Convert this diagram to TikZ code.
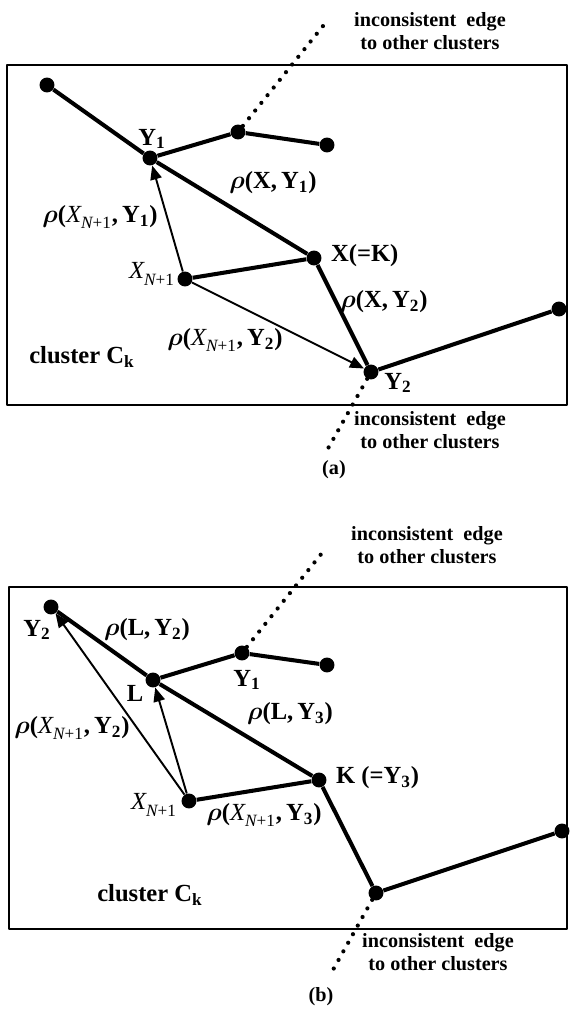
\documentclass[tikz,border=0pt]{standalone}
\usepackage{fontspec}
\setmainfont{Liberation Serif}
\usetikzlibrary{arrows.meta}
\newcommand\xnext{{\mdseries\itshape X\textsubscript{\raisebox{-0.3ex}{N\upshape+1}}}}
\begin{document}
\begin{tikzpicture}[x=0.02cm,y=-0.02cm,line join=round,
  dot/.style={circle,fill,inner sep=0pt,minimum size=8.5pt},
  tree/.style={line width=2.3pt},
  dist/.style={line width=1.1pt,-{Triangle[length=8pt,width=6.5pt]}},
  outedge/.style={line width=2.4pt,line cap=round,dash pattern=on 0pt off 5.6pt},
  lab/.style={font=\bfseries\boldmath\fontsize{14}{16}\selectfont,inner sep=1pt},
  note/.style={font=\bfseries\fontsize{11.5}{13}\selectfont,align=center,inner sep=1pt},
  frame/.style={line width=1.3pt}]
\useasboundingbox (0,0) rectangle (569,1009);
% ---- (a) ----
\draw[frame] (7,65) rectangle (567,405);
\node[dot] (a1) at (47,85) {};
\node[dot] (ay1) at (150,158) {};
\node[dot] (am) at (238,132) {};
\node[dot] (ar) at (327,145) {};
\node[dot] (ax) at (185,279) {};
\node[dot] (ak) at (314,258) {};
\node[dot] (ay2) at (371,372) {};
\node[dot] (af) at (559,309) {};
\coordinate (aout1) at (323,26);
\coordinate (aout2) at (326,452);
\draw[tree] (a1)--(ay1)--(am)--(ar) (ay1)--(ak)--(ay2)--(af) (ax)--(ak);
\draw[dist] (ax)--(ay1);
\draw[dist] (ax)--(ay2);
\draw[outedge] (am)--(aout1) (ay2)--(aout2);
\node[lab] (ly1) at (152,139) {Y\textsubscript{1}};
\node[lab] (lxy1) at (273,183) {$\rho$(X,\,Y\textsubscript{1})};
\node[lab] (lxny1) at (100,217) {$\rho$(\xnext,\,Y\textsubscript{1})};
\node[lab,anchor=east] (lx) at (177,274) {\xnext};
\node[lab,anchor=west] (lk) at (329,256) {X(=K)};
\node[lab] (lxy2) at (384,302) {$\rho$(X,\,Y\textsubscript{2})};
\node[lab] (lxny2) at (225,340) {$\rho$(\xnext,\,Y\textsubscript{2})};
\node[lab] (lca) at (82,357) {cluster C\textsubscript{k}};
\node[lab] (ly2) at (398,383) {Y\textsubscript{2}};
\node[note] (na1) at (430,31) {inconsistent\ \ edge\\to other clusters};
\node[note] (na2) at (430,430) {inconsistent\ \ edge\\to other clusters};
\node[note] (capa) at (334,470) {(a)};
% ---- (b) ----
\draw[frame] (9,587) rectangle (567,929);
\node[dot] (by2) at (51,607) {};
\node[dot] (bl) at (153,680) {};
\node[dot] (by1) at (242,653) {};
\node[dot] (br) at (327,665) {};
\node[dot] (bx) at (189,801) {};
\node[dot] (bk) at (319,780) {};
\node[dot] (bb) at (376,893) {};
\node[dot] (bf) at (562,831) {};
\coordinate (bout1) at (326,548);
\coordinate (bout2) at (329,977);
\draw[tree] (by2)--(bl)--(by1)--(br) (bl)--(bk)--(bb)--(bf) (bx)--(bk);
\draw[dist] (bx)--(by2);
\draw[dist] (bx)--(bl);
\draw[outedge] (by1)--(bout1) (bb)--(bout2);
\node[lab] (my2) at (37,630) {Y\textsubscript{2}};
\node[lab] (mly2) at (147,630) {$\rho$(L,\,Y\textsubscript{2})};
\node[lab] (ml) at (135,693) {L};
\node[lab] (my1) at (247,680) {Y\textsubscript{1}};
\node[lab] (mly3) at (290,714) {$\rho$(L,\,Y\textsubscript{3})};
\node[lab] (mxny2) at (72,728) {$\rho$(\xnext,\,Y\textsubscript{2})};
\node[lab,anchor=east] (mx) at (179,805) {\xnext};
\node[lab] (mxny3) at (264,815) {$\rho$(\xnext,\,Y\textsubscript{3})};
\node[lab,anchor=west] (mk) at (334,778) {K (=Y\textsubscript{3})};
\node[lab] (mcb) at (150,895) {cluster C\textsubscript{k}};
\node[note] (nb1) at (427,545) {inconsistent\ \ edge\\to other clusters};
\node[note] (nb2) at (438,952) {inconsistent\ \ edge\\to other clusters};
\node[note] (capb) at (321,997) {(b)};
\end{tikzpicture}
\end{document}
